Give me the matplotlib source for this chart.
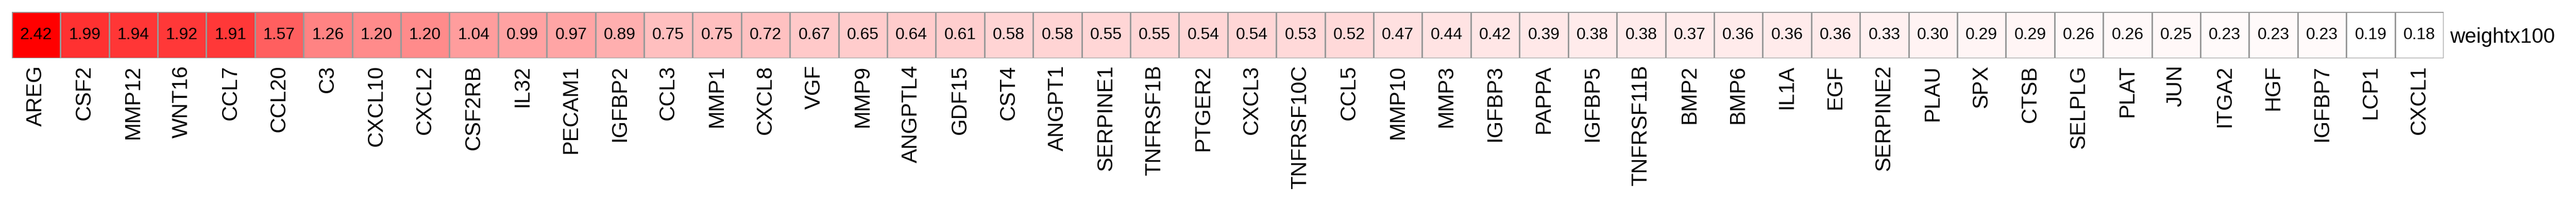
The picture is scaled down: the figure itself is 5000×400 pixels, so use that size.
import numpy as np
import matplotlib
matplotlib.use("Agg")
import matplotlib.pyplot as plt
from matplotlib.colors import ListedColormap, BoundaryNorm, LinearSegmentedColormap

genes = ["AREG", "CSF2", "MMP12", "WNT16", "CCL7", "CCL20", "C3", "CXCL10",
         "CXCL2", "CSF2RB", "IL32", "PECAM1", "IGFBP2", "CCL3", "MMP1", "CXCL8",
         "VGF", "MMP9", "ANGPTL4", "GDF15", "CST4", "ANGPT1", "SERPINE1",
         "TNFRSF1B", "PTGER2", "CXCL3", "TNFRSF10C", "CCL5", "MMP10", "MMP3",
         "IGFBP3", "PAPPA", "IGFBP5", "TNFRSF11B", "BMP2", "BMP6", "IL1A", "EGF",
         "SERPINE2", "PLAU", "SPX", "CTSB", "SELPLG", "PLAT", "JUN", "ITGA2",
         "HGF", "IGFBP7", "LCP1", "CXCL1"]
weights = [2.42, 1.99, 1.94, 1.92, 1.91, 1.57, 1.26, 1.20, 1.20, 1.04, 0.99,
           0.97, 0.89, 0.75, 0.75, 0.72, 0.67, 0.65, 0.64, 0.61, 0.58, 0.58,
           0.55, 0.55, 0.54, 0.54, 0.53, 0.52, 0.47, 0.44, 0.42, 0.39, 0.38,
           0.38, 0.37, 0.36, 0.36, 0.36, 0.33, 0.30, 0.29, 0.29, 0.26, 0.26,
           0.25, 0.23, 0.23, 0.23, 0.19, 0.18]
row_label = "weightx100"

plt.rcParams['font.family'] = ['Liberation Sans', 'DejaVu Sans']

# white -> red ramp, 100 colours, breaks spread evenly over the data range
n_col = 100
ramp = LinearSegmentedColormap.from_list("wr", ["#ffffff", "#ff0000"])
cmap = ListedColormap(ramp(np.linspace(0, 1, n_col)))
breaks = np.linspace(min(weights), max(weights), n_col + 1)
breaks[-1] += 1e-9
norm = BoundaryNorm(breaks, n_col)

W, H = 5000, 400
fig = plt.figure(figsize=(W / 100, H / 100), dpi=100)
left, right = 22.7 / W, 4743 / W
top, bottom = 1 - 22.7 / H, 1 - 112.7 / H
ax = fig.add_axes([left, bottom, right - left, top - bottom])

data = np.array(weights).reshape(1, -1)
ax.pcolormesh(data, cmap=cmap, norm=norm, edgecolors="#999999", linewidth=1.8)
ax.set_xlim(0, len(genes))
ax.set_ylim(1, 0)

for i, v in enumerate(weights):
    ax.text(i + 0.5, 0.5, f"{v:.2f}", ha="center", va="center", fontsize=23,
            color="black")

ax.set_xticks(np.arange(len(genes)) + 0.5)
ax.set_xticklabels(genes, rotation=90, fontsize=30, va="top", ha="center")
ax.tick_params(axis="x", length=0, pad=10)

ax.yaxis.tick_right()
ax.set_yticks([0.5])
ax.set_yticklabels([row_label], fontsize=29)
ax.tick_params(axis="y", length=0, pad=9)

for s in ax.spines.values():
    s.set_visible(False)

fig.savefig("out.png", dpi=100)
